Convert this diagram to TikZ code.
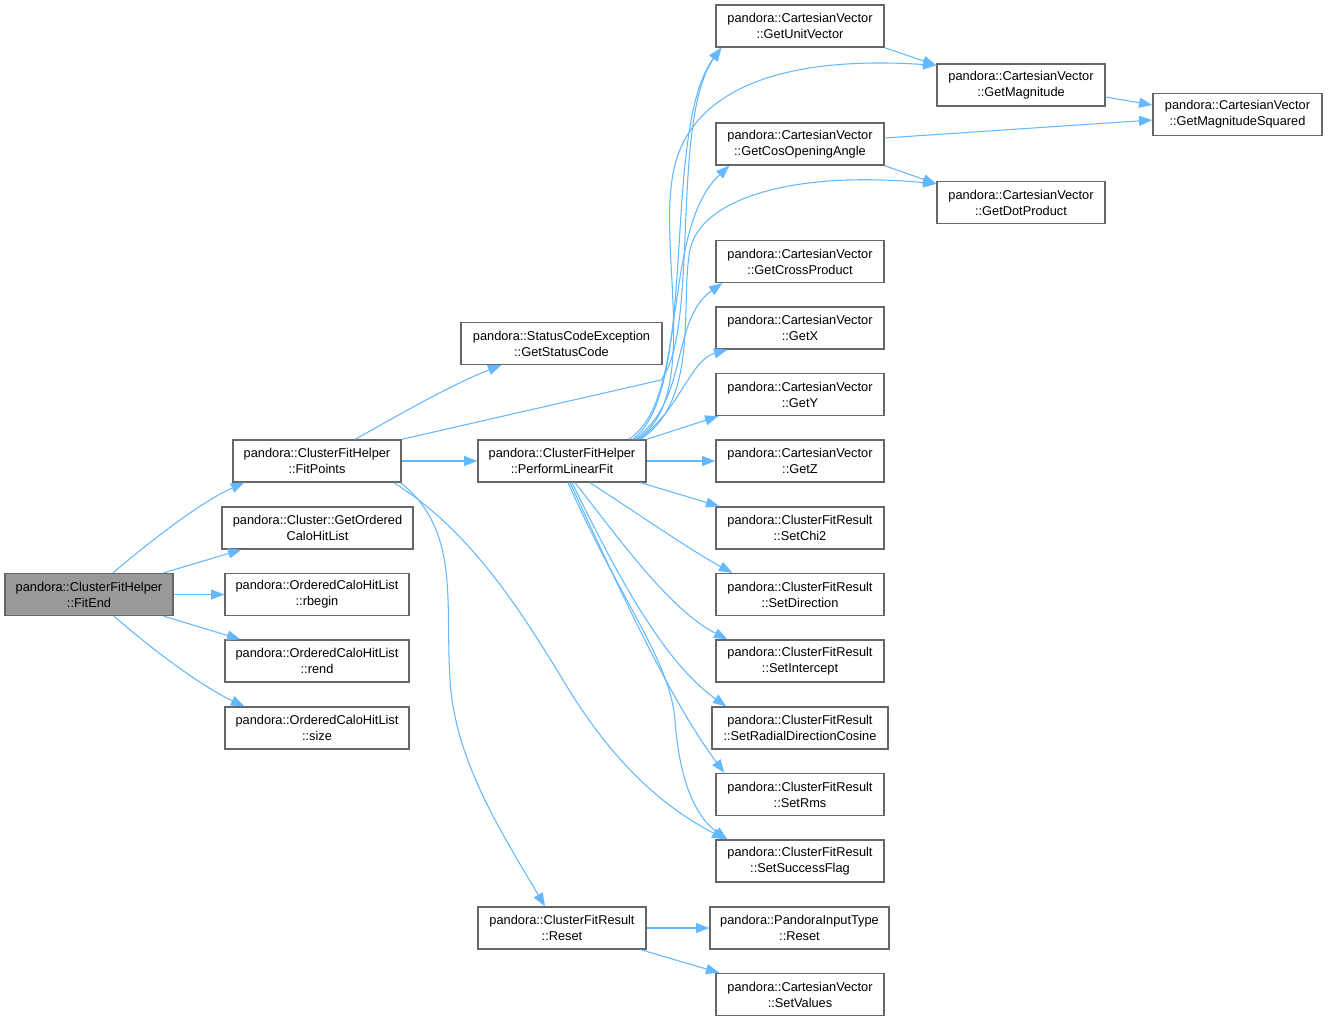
\documentclass[tikz,border=0pt]{standalone}
\usepackage{fontspec}
\setmainfont{Liberation Sans}
\usetikzlibrary{arrows.meta,calc}
\definecolor{edgeblue}{HTML}{63B8FF}
\definecolor{boxgray}{HTML}{666666}
\definecolor{rootgray}{HTML}{999999}
\begin{document}
\begin{tikzpicture}[x=0.75pt,y=-0.75pt,
  box/.style={draw=boxgray, line width=1pt, fill=white, minimum width=#1*0.75pt,
    minimum height=31.5pt, inner sep=0pt, align=center,
    font=\fontsize{9.6}{12}\selectfont},
  call/.style={draw=edgeblue, line width=0.8pt, -{Triangle[length=10pt,width=7.5pt]}}]
\useasboundingbox (0,0) rectangle (1328,1021);

% nodes
\node[box=168, fill=rootgray] (fitend) at (89,594.5) {pandora::ClusterFitHelper\\::FitEnd};
\node[box=168] (fitpoints) at (317,461) {pandora::ClusterFitHelper\\::FitPoints};
\node[box=191] (getordered) at (317.5,528) {pandora::Cluster::GetOrdered\\CaloHitList};
\node[box=184] (rbegin) at (317,594.5) {pandora::OrderedCaloHitList\\::rbegin};
\node[box=184] (rend) at (317,661) {pandora::OrderedCaloHitList\\::rend};
\node[box=184] (size) at (317,728) {pandora::OrderedCaloHitList\\::size};
\node[box=201] (statuscode) at (561.5,343.5) {pandora::StatusCodeException\\::GetStatusCode};
\node[box=168] (plf) at (562,461) {pandora::ClusterFitHelper\\::PerformLinearFit};
\node[box=168] (cfrreset) at (562,928) {pandora::ClusterFitResult\\::Reset};
\node[box=168] (unitvec) at (800,26) {pandora::CartesianVector\\::GetUnitVector};
\node[box=168] (cosangle) at (800,144) {pandora::CartesianVector\\::GetCosOpeningAngle};
\node[box=168] (cross) at (800,261.5) {pandora::CartesianVector\\::GetCrossProduct};
\node[box=168] (getx) at (800,328) {pandora::CartesianVector\\::GetX};
\node[box=168] (gety) at (800,394.5) {pandora::CartesianVector\\::GetY};
\node[box=168] (getz) at (800,461) {pandora::CartesianVector\\::GetZ};
\node[box=168] (chi2) at (800,528) {pandora::ClusterFitResult\\::SetChi2};
\node[box=168] (direction) at (800,594.5) {pandora::ClusterFitResult\\::SetDirection};
\node[box=168] (intercept) at (800,661) {pandora::ClusterFitResult\\::SetIntercept};
\node[box=176] (radial) at (800,728) {pandora::ClusterFitResult\\::SetRadialDirectionCosine};
\node[box=168] (rms) at (800,794.5) {pandora::ClusterFitResult\\::SetRms};
\node[box=168] (success) at (800,861) {pandora::ClusterFitResult\\::SetSuccessFlag};
\node[box=179] (pitreset) at (799.5,928) {pandora::PandoraInputType\\::Reset};
\node[box=168] (setvalues) at (800,994.5) {pandora::CartesianVector\\::SetValues};
\node[box=168] (magnitude) at (1021,85) {pandora::CartesianVector\\::GetMagnitude};
\node[box=168] (dot) at (1021,202.5) {pandora::CartesianVector\\::GetDotProduct};
\node[box=169] (magsq) at (1237.5,114.5) {pandora::CartesianVector\\::GetMagnitudeSquared};

% FitEnd edges
\draw[call] ($(fitend.north)+(24,0)$) .. controls (160,533) and (205,500) .. ($(fitpoints.south west)+(12,0)$);
\draw[call] ($(fitend.north east)+(-10,0)$) -- ($(getordered.south west)+(20,0)$);
\draw[call] (fitend.east) -- (rbegin.west);
\draw[call] ($(fitend.south east)+(-10,0)$) -- ($(rend.north west)+(16,0)$);
\draw[call] ($(fitend.south)+(25,0)$) .. controls (160,656) and (205,688) .. ($(size.north west)+(20,0)$);

% FitPoints edges
\draw[call] ($(fitpoints.north)+(38,0)$) .. controls (390,420) and (450,385) .. ($(statuscode.south west)+(41,0)$);
\draw[call] (fitpoints.east) -- (plf.west);
\draw[call] (fitpoints.north east) -- (661,380) .. controls (700,330) and (670,120) .. ($(unitvec.south west)+(6,0)$);
\draw[call] ($(fitpoints.south east)+(-8,0)$) .. controls (470,530) and (520,610) .. (560,675)
  .. controls (610,760) and (660,805) .. ($(success.north west)+(10,0)$);
\draw[call] ($(fitpoints.south east)+(-1,0)$) .. controls (460,530) and (445,600) .. (450,680)
  .. controls (455,760) and (500,830) .. ($(cfrreset.north)+(-17,0)$);

% PerformLinearFit edges
\draw[call] ($(plf.north east)+(-14,0)$) .. controls (700,390) and (660,130) .. ($(unitvec.south west)+(6,0)$);
\draw[call] ($(plf.north east)+(-10,0)$) .. controls (700,400) and (660,260) .. (672,180)
  .. controls (684,90) and (780,55) .. ($(magnitude.north west)+(0,2)$);
\draw[call] ($(plf.north east)+(-6,0)$) .. controls (700,400) and (680,300) .. (690,250)
  .. controls (700,200) and (790,170) .. ($(dot.north west)+(0,3)$);
\draw[call] ($(plf.north east)+(-18,0)$) .. controls (690,400) and (660,230) .. ($(cosangle.south west)+(14,0)$);
\draw[call] ($(plf.north east)+(-12,0)$) .. controls (690,400) and (670,320) .. ($(cross.south west)+(7,0)$);
\draw[call] ($(plf.north east)+(-8,0)$) .. controls (680,410) and (690,360) .. ($(getx.south west)+(12,0)$);
\draw[call] (plf.north east) -- ($(gety.south west)+(3,0)$);
\draw[call] (plf.east) -- (getz.west);
\draw[call] ($(plf.south east)+(-6,0)$) -- ($(chi2.north west)+(4,0)$);
\draw[call] ($(plf.south)+(28,0)$) .. controls (640,515) and (690,550) .. ($(direction.north west)+(17,0)$);
\draw[call] ($(plf.south)+(13,0)$) .. controls (620,540) and (670,610) .. ($(intercept.north west)+(12,0)$);
\draw[call] ($(plf.south)+(10,0)$) .. controls (610,560) and (660,660) .. ($(radial.north west)+(15,0)$);
\draw[call] ($(plf.south)+(8,0)$) .. controls (620,590) and (670,700) .. ($(rms.north west)+(9,0)$);
\draw[call] ($(plf.south)+(6,0)$) .. controls (620,600) and (670,660) .. (675,720)
  .. controls (680,790) and (700,820) .. ($(success.north west)+(12,0)$);

% Reset edges
\draw[call] (cfrreset.east) -- (pitreset.west);
\draw[call] ($(cfrreset.south east)+(-6,0)$) -- ($(setvalues.north west)+(4,0)$);

% CartesianVector edges
\draw[call] (unitvec.south east) -- ($(magnitude.north west)+(0,2)$);
\draw[call] ($(cosangle.east)+(0,-6)$) -- ($(magsq.west)+(0,5.5)$);
\draw[call] (cosangle.south east) -- ($(dot.north west)+(0,3)$);
\draw[call] ($(magnitude.east)+(0,12)$) -- ($(magsq.west)+(0,-9.5)$);
\end{tikzpicture}
\end{document}
